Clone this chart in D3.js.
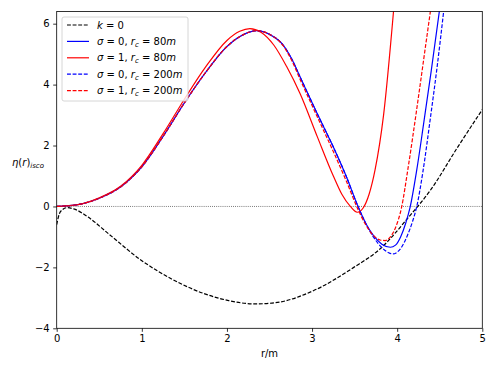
<!DOCTYPE html>
<html>
<meta charset='utf-8'>
<head>
<script src='https://d3js.org/d3.v7.min.js'></script>
<style>
body { margin: 0; background: #fff; }
text { font-family: 'DejaVu Sans', sans-serif; }
</style>
</head>
<body>
<div id='chart'></div>
<script>
// values
var xTicks = [0, 1, 2, 3, 4, 5]
var yTicks = [-4, -2, 0, 2, 4, 6]

var k0X = [0, 0.03, 0.07, 0.12, 0.2, 0.37, 0.61, 1.0, 1.35, 1.74, 2.02, 2.33, 2.57, 3.02, 3.49, 3.8, 4.15, 4.39, 4.7, 5.0]
var k0Y = [-0.6, -0.25, -0.1, -0.04, -0.08, -0.35, -0.9, -1.78, -2.38, -2.87, -3.09, -3.2, -3.16, -2.76, -2.0, -1.39, -0.3, 0.53, 1.9, 3.18]

var s0r80X = [0, 0.25, 0.5, 0.75, 1.0, 1.25, 1.5, 1.75, 2.0, 2.2, 2.35, 2.5, 2.66, 2.76, 2.86, 3.06, 3.25, 3.4, 3.54, 3.63, 3.72, 3.82, 3.92, 3.98, 4.04, 4.1, 4.15, 4.23, 4.31, 4.4, 4.5]
var s0r80Y = [0, 0.06, 0.27, 0.64, 1.3, 2.3, 3.4, 4.4, 5.25, 5.65, 5.77, 5.65, 5.3, 4.85, 4.25, 3.05, 1.95, 1.0, 0.0, -0.55, -0.95, -1.24, -1.34, -1.27, -1.0, -0.55, -0.05, 1.2, 2.7, 4.45, 6.5]

var s1r80X = [0, 0.25, 0.5, 0.75, 1.0, 1.25, 1.5, 1.75, 2.0, 2.15, 2.27, 2.4, 2.55, 2.7, 2.86, 3.06, 3.25, 3.35, 3.45, 3.53, 3.6, 3.67, 3.74, 3.84, 3.96]
var s1r80Y = [0, 0.06, 0.28, 0.66, 1.35, 2.39, 3.52, 4.58, 5.45, 5.75, 5.84, 5.72, 5.3, 4.6, 3.7, 2.3, 1.0, 0.4, 0.0, -0.19, -0.05, 0.4, 1.2, 3.0, 6.5]

var s0r200X = [0, 0.25, 0.5, 0.75, 1.0, 1.25, 1.5, 1.75, 2.0, 2.2, 2.35, 2.5, 2.66, 2.76, 2.86, 3.06, 3.25, 3.4, 3.54, 3.63, 3.72, 3.82, 3.9, 3.95, 4.0, 4.06, 4.12, 4.18, 4.23, 4.3, 4.39, 4.47, 4.55]
var s0r200Y = [0, 0.06, 0.27, 0.64, 1.3, 2.3, 3.4, 4.4, 5.25, 5.65, 5.77, 5.65, 5.3, 4.85, 4.25, 3.05, 1.95, 1.0, 0.0, -0.55, -1.0, -1.35, -1.52, -1.56, -1.5, -1.3, -0.95, -0.5, 0.0, 1.1, 2.9, 4.6, 6.5]

var s1r200X = [0, 0.25, 0.5, 0.75, 1.0, 1.25, 1.5, 1.75, 2.0, 2.2, 2.35, 2.5, 2.66, 2.76, 2.86, 3.06, 3.25, 3.4, 3.54, 3.63, 3.72, 3.8, 3.86, 3.92, 3.98, 4.05, 4.13, 4.23, 4.32, 4.4]
var s1r200Y = [0, 0.06, 0.27, 0.64, 1.3, 2.3, 3.4, 4.4, 5.25, 5.65, 5.77, 5.65, 5.28, 4.8, 4.17, 2.95, 1.8, 0.85, -0.1, -0.6, -0.95, -1.1, -1.12, -1.0, -0.7, -0.05, 1.3, 3.2, 5.0, 6.6]

var series = [
  {xs: k0X, ys: k0Y, color: 'black', dash: true, label: [['k', 1], [' = 0', 0]]},
  {xs: s0r80X, ys: s0r80Y, color: 'blue', dash: false, label: [['σ', 1], [' = 0, ', 0], ['r', 1], ['c', 2], [' = 80', 3], ['m', 1]]},
  {xs: s1r80X, ys: s1r80Y, color: 'red', dash: false, label: [['σ', 1], [' = 1, ', 0], ['r', 1], ['c', 2], [' = 80', 3], ['m', 1]]},
  {xs: s0r200X, ys: s0r200Y, color: 'blue', dash: true, label: [['σ', 1], [' = 0, ', 0], ['r', 1], ['c', 2], [' = 200', 3], ['m', 1]]},
  {xs: s1r200X, ys: s1r200Y, color: 'red', dash: true, label: [['σ', 1], [' = 1, ', 0], ['r', 1], ['c', 2], [' = 200', 3], ['m', 1]]}
]

var W = 498, H = 374
var margin = {top: 11.5, right: 15.7, bottom: 45.7, left: 56.7},
    width = W - margin.left - margin.right,
    height = H - margin.top - margin.bottom

var svg = d3.select('#chart').append('svg')
    .attr('width', W).attr('height', H)

var g = svg.append('g')
    .attr('transform', 'translate(' + margin.left + ',' + margin.top + ')')

var x = d3.scaleLinear().domain([0, 5]).range([0, width])
var y = d3.scaleLinear().domain([-4, 6.4]).range([height, 0])

g.append('clipPath').attr('id', 'clip')
  .append('rect').attr('width', width).attr('height', height)

// zero reference line
g.append('line')
    .attr('x1', x(0)).attr('x2', x(5))
    .attr('y1', y(0)).attr('y2', y(0))
    .attr('stroke', '#333').attr('stroke-width', 0.8)
    .attr('stroke-dasharray', '0.8,1.3')

var line = d3.line()
    .x(d => x(d[0])).y(d => y(d[1]))
    .curve(d3.curveMonotoneX)

var plot = g.append('g').attr('clip-path', 'url(#clip)')
series.forEach(function(s) {
  plot.append('path')
      .datum(s.xs.map((v, i) => [v, s.ys[i]]))
      .attr('d', line)
      .attr('fill', 'none')
      .attr('stroke', s.color)
      .attr('stroke-width', 1.2)
      .attr('stroke-dasharray', s.dash ? '3.9,1.7' : null)
})

// axes
var xAxis = g.append('g').attr('transform', 'translate(0,' + height + ')')
    .call(d3.axisBottom(x).tickValues(xTicks).tickFormat(d3.format('d')).tickSize(3.5).tickPadding(3.5))
var yAxis = g.append('g')
    .call(d3.axisLeft(y).tickValues(yTicks).tickFormat(d => d < 0 ? '\u2212' + Math.abs(d) : d).tickSize(3.5).tickPadding(3.5))
;[xAxis, yAxis].forEach(function(a) {
  a.select('.domain').remove()
  a.selectAll('.tick line').attr('stroke', 'black').attr('stroke-width', 0.8)
  a.selectAll('.tick text').attr('font-size', 10).attr('fill', 'black')
      .style('font-family', 'DejaVu Sans')
})

g.append('rect').attr('width', width).attr('height', height)
    .attr('fill', 'none').attr('stroke', 'black').attr('stroke-width', 0.8)

// labels
svg.append('text').attr('x', margin.left + width / 2).attr('y', 357)
    .attr('text-anchor', 'middle').attr('font-size', 10).text('r/m')

var yl = svg.append('text').attr('x', 12).attr('y', 166).attr('font-size', 10)
yl.append('tspan').attr('font-style', 'italic').text('η')
yl.append('tspan').text('(')
yl.append('tspan').attr('font-style', 'italic').text('r')
yl.append('tspan').text(')')
yl.append('tspan').attr('font-style', 'italic').attr('font-size', 7).attr('dy', 2).text('isco')

// legend
var lg = svg.append('g').attr('transform', 'translate(62,17)')
lg.append('rect').attr('width', 126).attr('height', 84).attr('rx', 2)
    .attr('fill', 'white').attr('fill-opacity', 0.8)
    .attr('stroke', '#cccccc').attr('stroke-width', 0.8)

series.forEach(function(s, i) {
  var row = lg.append('g').attr('transform', 'translate(0,' + (8 + i * 16.4) + ')')
  row.append('line').attr('x1', 5).attr('x2', 27).attr('y1', 0).attr('y2', 0)
      .attr('stroke', s.color).attr('stroke-width', 1.2)
      .attr('stroke-dasharray', s.dash ? '3.9,1.7' : null)
  var t = row.append('text').attr('x', 35).attr('y', 3.6).attr('font-size', 10)
  s.label.forEach(function(p) {
    var sp = t.append('tspan').text(p[0])
    if (p[1] == 1) sp.attr('font-style', 'italic')
    if (p[1] == 2) sp.attr('font-style', 'italic').attr('font-size', 7).attr('dy', 2)
    if (p[1] == 3) sp.attr('dy', -2)
  })
})
</script>
</body>
</html>
